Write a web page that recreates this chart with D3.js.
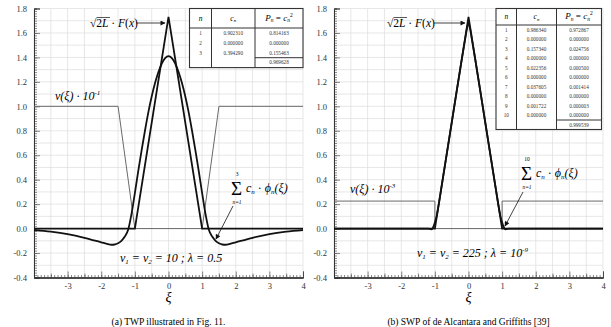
<!DOCTYPE html>
<html>
<head>
<meta charset="utf-8">
<script src="https://cdn.jsdelivr.net/npm/d3@7/dist/d3.min.js"></script>
<style>
  body { margin: 0; background: #fff; }
  svg { display: block; font-family: 'Liberation Serif', 'DejaVu Serif', serif; }
</style>
</head>
<body>
<svg id="chart" width="611" height="327"></svg>
<script>
// ---- data ----
const xTickLabels = [-3, -2, -1, 0, 1, 2, 3, 4];
const yTickLabels = [-0.4, -0.2, 0.0, 0.2, 0.4, 0.6, 0.8, 1.0, 1.2, 1.4, 1.6, 1.8];

// sqrt(2L) F(x), the triangle (same in both panels)
const triXi = [-4, -1, 0, 1, 4];
const triVal = [0, 0, 1.732, 0, 0];

// (a) TWP: potential v * 10^-1
const twpPotXi = [-4, -1.5, -1, 1, 1.5, 4];
const twpPotVal = [1, 1, 0, 0, 1, 1];

// (a) TWP: three-term sum
const twpSumXi = [-4, -3.5, -3, -2.5, -2, -1.8, -1.7, -1.6, -1.5, -1.4, -1.3, -1.2, -1.1, -1,
  -0.9, -0.8, -0.7, -0.6, -0.5, -0.4, -0.3, -0.2, -0.1, 0,
  0.1, 0.2, 0.3, 0.4, 0.5, 0.6, 0.7, 0.8, 0.9,
  1, 1.1, 1.2, 1.3, 1.4, 1.5, 1.6, 1.7, 1.8, 2, 2.5, 3, 3.5, 4];
const twpSumVal = [-0.012, -0.025, -0.045, -0.075, -0.112, -0.127, -0.132, -0.13, -0.12, -0.1, -0.065, -0.01, 0.12, 0.29,
  0.47, 0.64, 0.8, 0.95, 1.08, 1.19, 1.28, 1.35, 1.395, 1.41,
  1.395, 1.35, 1.28, 1.19, 1.08, 0.95, 0.8, 0.64, 0.47,
  0.29, 0.12, -0.01, -0.065, -0.1, -0.12, -0.13, -0.132, -0.127, -0.112, -0.075, -0.045, -0.025, -0.012];

// (b) SWP: potential v * 10^-3
const swpPotXi = [-4, -1, -1, 1, 1, 4];
const swpPotVal = [0.225, 0.225, 0, 0, 0.225, 0.225];

// (b) SWP: ten-term sum
const swpSumXi = [-4, -1.2, -1.1, -1.05, -1, -0.95, -0.9, -0.8, -0.6, -0.4, -0.2, -0.1, -0.05, 0,
  0.05, 0.1, 0.2, 0.4, 0.6, 0.8, 0.9, 0.95, 1, 1.05, 1.1, 1.2, 4];
const swpSumVal = [0, 0, -0.006, 0.012, 0.05, 0.1, 0.175, 0.345, 0.69, 1.04, 1.385, 1.55, 1.63, 1.68,
  1.63, 1.55, 1.385, 1.04, 0.69, 0.345, 0.175, 0.1, 0.05, 0.012, -0.006, 0, 0];

// tables
const twpN = ['1', '2', '3'];
const twpC = ['0.902310', '0.000000', '0.394290'];
const twpP = ['0.814163', '0.000000', '0.155463'];
const twpTotal = '0.969628';

const swpN = ['1', '2', '3', '4', '5', '6', '7', '8', '9', '10'];
const swpC = ['0.986340', '0.000000', '0.157340', '0.000000', '0.022356', '0.000000', '0.037605', '0.000000', '0.001722', '0.000000'];
const swpP = ['0.972867', '0.000000', '0.024756', '0.000000', '0.000500', '0.000000', '0.001414', '0.000000', '0.000003', '0.000000'];
const swpTotal = '0.999539';

// ---- drawing ----
const svg = d3.select('#chart');

svg.append('defs').append('marker')
  .attr('id', 'arrow')
  .attr('viewBox', '0 0 10 10')
  .attr('refX', 9)
  .attr('refY', 5)
  .attr('markerWidth', 7)
  .attr('markerHeight', 5)
  .attr('markerUnits', 'userSpaceOnUse')
  .attr('orient', 'auto')
  .append('path')
  .attr('d', 'M0,0L10,5L0,10Z')
  .attr('fill', '#111');

const drawPanel = (left, panel) => {
  const x = d3.scaleLinear().domain([-4, 4]).range([left, left + 269]);
  const y = d3.scaleLinear().domain([-0.4, 1.8]).range([277.5, 8.5]);
  const g = svg.append('g');

  // grid
  g.append('g').selectAll('line')
    .data(d3.range(-8, 9).map(d => d / 2))
    .join('line')
    .attr('x1', d => x(d)).attr('x2', d => x(d))
    .attr('y1', y(-0.4)).attr('y2', y(1.8))
    .attr('stroke', '#dcdcdc').attr('stroke-width', 0.7);
  g.append('g').selectAll('line')
    .data(d3.range(-4, 19).map(d => d / 10))
    .join('line')
    .attr('x1', x(-4)).attr('x2', x(4))
    .attr('y1', d => y(d)).attr('y2', d => y(d))
    .attr('stroke', '#dcdcdc').attr('stroke-width', 0.7);

  // axes
  const yAxis = g.append('g').attr('transform', `translate(${x(-4)},0)`);
  yAxis.call(d3.axisLeft(y).tickValues(d3.range(-20, 91).map(d => d / 50)).tickSize(-3).tickFormat(''));
  yAxis.append('g').call(d3.axisLeft(y).tickValues(yTickLabels).tickSize(-6).tickPadding(7)
    .tickFormat(d => d.toFixed(1)));

  const xAxis = g.append('g').attr('transform', `translate(0,${y(-0.4)})`);
  xAxis.call(d3.axisBottom(x).tickValues(d3.range(-40, 41).map(d => d / 10)).tickSize(-2.5).tickFormat(''));
  xAxis.append('g').call(d3.axisBottom(x).tickValues(d3.range(-7, 8, 2).map(d => d / 2)).tickSize(-4).tickFormat(''));
  xAxis.append('g').call(d3.axisBottom(x).tickValues(xTickLabels).tickSize(-6).tickPadding(5)
    .tickFormat(d => d));

  g.selectAll('g').attr('font-family', null);
  g.selectAll('.domain').attr('stroke', '#333');
  g.selectAll('.tick line').attr('stroke', '#555').attr('stroke-width', 0.7);
  g.selectAll('.tick text').attr('font-size', 8.5).attr('fill', '#333');

  // curves
  const line = d3.line().x(d => x(d[0])).y(d => y(d[1]));
  g.append('path')
    .attr('d', line(d3.zip(panel.potXi, panel.potVal)))
    .attr('fill', 'none').attr('stroke', '#6a6a6a').attr('stroke-width', 1);
  g.append('path')
    .attr('d', line(d3.zip(triXi, triVal)))
    .attr('fill', 'none').attr('stroke', '#111').attr('stroke-width', 1.8);
  g.append('path')
    .attr('d', line.curve(d3.curveMonotoneX)(d3.zip(panel.sumXi, panel.sumVal)))
    .attr('fill', 'none').attr('stroke', '#111').attr('stroke-width', 1.8);

  // axis title
  g.append('text')
    .attr('x', x(0)).attr('y', 302)
    .attr('text-anchor', 'middle')
    .attr('font-style', 'italic').attr('font-size', 14)
    .text('ξ');

  return { x, y, g };
};

const drawTable = (cols, top, headH, rowH, n, c, p, total) => {
  const t = svg.append('g');
  const bottom = top + headH + rowH * (n.length + 1);
  const sepY = top + headH + rowH * n.length;
  t.append('rect')
    .attr('x', cols[0]).attr('y', top)
    .attr('width', cols[3] - cols[0]).attr('height', bottom - top)
    .attr('fill', '#fff').attr('stroke', '#333').attr('stroke-width', 1.1);
  t.selectAll('.vl').data([cols[1], cols[2]]).join('line')
    .attr('x1', d => d).attr('x2', d => d).attr('y1', top).attr('y2', bottom)
    .attr('stroke', '#333').attr('stroke-width', 1);
  t.append('line').attr('x1', cols[0]).attr('x2', cols[3]).attr('y1', top + headH).attr('y2', top + headH)
    .attr('stroke', '#333').attr('stroke-width', 1);
  t.append('line').attr('x1', cols[2]).attr('x2', cols[3]).attr('y1', sepY).attr('y2', sepY)
    .attr('stroke', '#333').attr('stroke-width', 1);

  const mid = i => (cols[i] + cols[i + 1]) / 2;
  const hy = top + headH / 2 + 2.5;
  t.append('text').attr('x', mid(0)).attr('y', hy).attr('text-anchor', 'middle')
    .attr('font-size', 7.5).attr('font-style', 'italic').text('n');
  const ch = t.append('text').attr('x', mid(1)).attr('y', hy).attr('text-anchor', 'middle')
    .attr('font-size', 7.5).attr('font-style', 'italic');
  ch.append('tspan').text('c');
  ch.append('tspan').attr('font-size', 5).attr('dy', 1.5).text('n');
  const ph = t.append('text').attr('x', mid(2)).attr('y', hy).attr('text-anchor', 'middle')
    .attr('font-size', 9).attr('font-style', 'italic');
  ph.append('tspan').text('P');
  ph.append('tspan').attr('font-size', 5.5).attr('dy', 1.5).text('n');
  ph.append('tspan').attr('dy', -1.5).attr('font-style', 'normal').text(' = ');
  ph.append('tspan').text('c');
  ph.append('tspan').attr('font-size', 5.5).attr('dy', 1.5).text('n');
  ph.append('tspan').attr('font-size', 5.5).attr('dy', -5.5).attr('font-style', 'normal').text('2');

  const rows = n.map((d, i) => ({ n: d, c: c[i], p: p[i], i }));
  const ry = i => top + headH + rowH * (i + 0.5) + 1.8;
  const cell = (col, key) => t.append('g').selectAll('text').data(rows).join('text')
    .attr('x', mid(col)).attr('y', d => ry(d.i))
    .attr('text-anchor', 'middle').attr('font-size', 5.2).attr('fill', '#333')
    .text(d => d[key]);
  cell(0, 'n');
  cell(1, 'c');
  cell(2, 'p');
  t.append('text').attr('x', mid(2)).attr('y', ry(n.length))
    .attr('text-anchor', 'middle').attr('font-size', 5.2).attr('fill', '#333').text(total);
};

const sqrtLabel = (x0, yb) => {
  const t = svg.append('text').attr('x', x0).attr('y', yb).attr('font-size', 11.5);
  t.append('tspan').text('√');
  t.append('tspan').text('2');
  t.append('tspan').attr('font-style', 'italic').text('L');
  t.append('tspan').text(' · ');
  t.append('tspan').attr('font-style', 'italic').text('F');
  t.append('tspan').text('(');
  t.append('tspan').attr('font-style', 'italic').text('x');
  t.append('tspan').text(')');
  svg.append('line')
    .attr('x1', x0 + 6.5).attr('x2', x0 + 20).attr('y1', yb - 9.5).attr('y2', yb - 9.5)
    .attr('stroke', '#111').attr('stroke-width', 0.7);
};

const potLabel = (x0, yb, exp) => {
  const t = svg.append('text').attr('x', x0).attr('y', yb).attr('font-size', 12).attr('font-style', 'italic');
  t.append('tspan').text('v(ξ) · 10');
  t.append('tspan').attr('font-size', 7).attr('dy', -5).text(exp);
};

// big sigma with limits above and below, kept clear of the glyph box
const sumLabel = (x0, base, top) => {
  svg.append('text').attr('x', x0).attr('y', base).attr('font-size', 19).text('Σ');
  svg.append('text').attr('x', x0 + 6).attr('y', base - 18.6).attr('text-anchor', 'middle').attr('font-size', 5.5).text(top);
  svg.append('text').attr('x', x0 + 6).attr('y', base + 9.4).attr('text-anchor', 'middle').attr('font-size', 5.5).attr('font-style', 'italic').text('n=1');
  const t = svg.append('text').attr('x', x0 + 15).attr('y', base - 3).attr('font-size', 12).attr('font-style', 'italic');
  t.append('tspan').text('c');
  t.append('tspan').attr('font-size', 7).attr('dy', 2).text('n');
  t.append('tspan').attr('dy', -2).attr('font-style', 'normal').text(' · ');
  t.append('tspan').text('ϕ');
  t.append('tspan').attr('font-size', 7).attr('dy', 2).text('n');
  t.append('tspan').attr('dy', -2).text('(ξ)');
};

const paramLabel = (x0, yb, rest, lamExp) => {
  const t = svg.append('text').attr('x', x0).attr('y', yb).attr('font-size', 12).attr('font-style', 'italic');
  t.append('tspan').text('v');
  t.append('tspan').attr('font-size', 7).attr('dy', 2).text('1');
  t.append('tspan').attr('dy', -2).text(' = v');
  t.append('tspan').attr('font-size', 7).attr('dy', 2).text('2');
  t.append('tspan').attr('dy', -2).text(` = ${rest}`);
  if (lamExp) t.append('tspan').attr('font-size', 7).attr('dy', -5).text(lamExp);
};

const arrow = (x1, y1, x2, y2) => svg.append('line')
  .attr('x1', x1).attr('y1', y1).attr('x2', x2).attr('y2', y2)
  .attr('stroke', '#111').attr('stroke-width', 0.8)
  .attr('marker-end', 'url(#arrow)');

// panel (a)
const a = drawPanel(34, { potXi: twpPotXi, potVal: twpPotVal, sumXi: twpSumXi, sumVal: twpSumVal });
drawTable([189.5, 211.5, 255, 303], 8.5, 19.5, 9.9, twpN, twpC, twpP, twpTotal);
sqrtLabel(90, 27);
arrow(136, 23, 165, 23);
potLabel(55, 100, '-1');
sumLabel(231, 195, '3');
arrow(233, 206, 216, 239);
paramLabel(120, 262, '10  ;  λ = 0.5', null);

// panel (b)
const b = drawPanel(334, { potXi: swpPotXi, potVal: swpPotVal, sumXi: swpSumXi, sumVal: swpSumVal });
drawTable([496, 516.5, 556.5, 601.5], 8.5, 16.5, 9.5, swpN, swpC, swpP, swpTotal);
sqrtLabel(387, 27);
arrow(434, 23, 465, 23);
potLabel(350, 193, '-3');
sumLabel(521, 180, '10');
arrow(523, 192, 505, 226);
paramLabel(417, 257, '225  ;  λ = 10', '-9');

// captions
svg.append('text').attr('x', a.x(0)).attr('y', 325).attr('text-anchor', 'middle')
  .attr('font-size', 9.5).text('(a) TWP illustrated in Fig. 11.');
svg.append('text').attr('x', b.x(0)).attr('y', 325).attr('text-anchor', 'middle')
  .attr('font-size', 9.5).text('(b) SWP of de Alcantara and Griffiths [39]');
</script>
</body>
</html>
